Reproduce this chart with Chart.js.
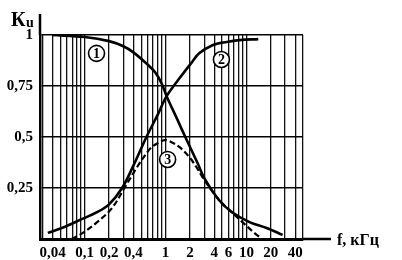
<!DOCTYPE html>
<html>
<head>
<meta charset="utf-8">
<script src="https://cdn.jsdelivr.net/npm/chart.js@4.4.1/dist/chart.umd.min.js"></script>
<style>
  body { margin: 0; background: #fff; }
  #wrap { width: 402px; height: 260px; }
</style>
</head>
<body>
<div id="wrap"><canvas id="chart" width="402" height="260"></canvas></div>
<script>
// Curve 1 - low-pass branch
const freq1 = [0.04, 0.1, 0.2, 0.3, 0.4, 0.6, 0.75, 0.9, 1.03, 1.4, 1.8, 2.5, 3.0, 4.6, 6.7, 10.9, 17.7, 28];
const gain1 = [1.0, 0.99, 0.97, 0.945, 0.915, 0.855, 0.815, 0.76, 0.70, 0.585, 0.49, 0.37, 0.30, 0.19, 0.13, 0.083, 0.054, 0.02];

// Curve 2 - high-pass branch
const freq2 = [0.035, 0.053, 0.095, 0.14, 0.2, 0.29, 0.4, 0.58, 0.8, 1.03, 1.5, 2.15, 2.6, 3.8, 5.7, 8.2, 14];
const gain2 = [0.03, 0.055, 0.10, 0.13, 0.17, 0.25, 0.36, 0.50, 0.61, 0.70, 0.79, 0.87, 0.91, 0.95, 0.966, 0.975, 0.98];

// Curve 3 - band-pass (dashed)
const freq3 = [0.069, 0.095, 0.14, 0.216, 0.31, 0.44, 0.58, 0.67, 0.84, 0.97, 1.12, 1.49, 1.98, 2.4, 3.0, 4.6, 6.2, 8.9, 12.5, 14.5];
const gain3 = [0.0, 0.03, 0.08, 0.15, 0.25, 0.35, 0.42, 0.45, 0.475, 0.485, 0.48, 0.45, 0.40, 0.353, 0.29, 0.19, 0.14, 0.083, 0.03, 0.01];

// Log grid lines and the labelled subset
const gridFreqs = [0.03, 0.04, 0.05, 0.06, 0.07, 0.08, 0.09,
                   0.1, 0.2, 0.3, 0.4, 0.5, 0.6, 0.7, 0.8, 0.9,
                   1, 2, 3, 4, 5, 6, 7, 8, 9,
                   10, 20, 30, 40, 50];
const labelFreqs = [0.04, 0.1, 0.2, 0.4, 1, 2, 4, 6, 10, 20, 40];
const labelTexts = ['0,04', '0,1', '0,2', '0,4', '1', '2', '4', '6', '10', '20', '40'];

const yTicks = [0, 0.25, 0.5, 0.75, 1];
const yTickTexts = ['', '0,25', '0,5', '0,75', '1'];

// Circled curve numbers
const markNames = ['1', '2', '3'];
const markFreqs = [0.14, 4.9, 1.06];
const markGains = [0.91, 0.88, 0.39];

function toPoints(xs, ys) {
    return xs.map((x, i) => ({ x: x, y: ys[i] }));
}

const serif = '"Liberation Serif", "Times New Roman", serif';

// Extra drawing: axis extensions, axis titles, circled numbers
const extras = {
    id: 'extras',
    afterDraw(chart) {
        const ctx = chart.ctx;
        const a = chart.chartArea;
        const xs = chart.scales.x;
        const ys = chart.scales.y;
        ctx.save();
        ctx.strokeStyle = '#000';
        ctx.lineWidth = 2.5;
        ctx.beginPath();
        ctx.moveTo(a.left, a.top);
        ctx.lineTo(a.left, 14);
        ctx.moveTo(a.right, a.bottom);
        ctx.lineTo(331, a.bottom);
        ctx.stroke();

        ctx.fillStyle = '#000';
        ctx.textAlign = 'left';
        ctx.textBaseline = 'alphabetic';
        ctx.font = 'bold 20px ' + serif;
        ctx.fillText('К', 11, 26);
        ctx.font = 'bold 14px ' + serif;
        ctx.fillText('u', 26, 27);
        ctx.font = 'bold 16px ' + serif;
        ctx.fillText('f, кГц', 337, 245);

        ctx.textAlign = 'center';
        ctx.textBaseline = 'middle';
        ctx.lineWidth = 1.6;
        markNames.forEach((name, i) => {
            const px = xs.getPixelForValue(markFreqs[i]);
            const py = ys.getPixelForValue(markGains[i]);
            ctx.fillStyle = '#fff';
            ctx.beginPath();
            ctx.arc(px, py, 8, 0, Math.PI * 2);
            ctx.fill();
            ctx.stroke();
            ctx.fillStyle = '#000';
            ctx.font = 'bold 14px ' + serif;
            ctx.fillText(name, px, py + 1);
        });
        ctx.restore();
    }
};

const lineStyle = {
    borderColor: '#000',
    pointRadius: 0,
    fill: false,
    tension: 0.35
};

new Chart(document.getElementById('chart').getContext('2d'), {
    type: 'line',
    data: {
        datasets: [
            Object.assign({ data: toPoints(freq1, gain1), borderWidth: 2.6 }, lineStyle),
            Object.assign({ data: toPoints(freq2, gain2), borderWidth: 2.6 }, lineStyle),
            Object.assign({ data: toPoints(freq3, gain3), borderWidth: 2.2, borderDash: [6, 3] }, lineStyle)
        ]
    },
    options: {
        responsive: false,
        animation: false,
        layout: { padding: { top: 35, right: 99, left: 0, bottom: 0 } },
        plugins: { legend: { display: false }, tooltip: { enabled: false } },
        scales: {
            x: {
                type: 'logarithmic',
                min: 0.028,
                max: 50,
                afterBuildTicks: s => { s.ticks = gridFreqs.map(v => ({ value: v })); },
                afterFit: s => { s.height = 21; },
                grid: { color: '#111', lineWidth: 1.3, drawTicks: false },
                border: { color: '#000', width: 3 },
                ticks: {
                    autoSkip: false,
                    maxRotation: 0,
                    padding: 5,
                    color: '#000',
                    font: { family: serif, size: 15, weight: 'bold' },
                    callback: v => {
                        const i = labelFreqs.indexOf(v);
                        return i >= 0 ? labelTexts[i] : '';
                    }
                }
            },
            y: {
                min: 0,
                max: 1,
                afterBuildTicks: s => { s.ticks = yTicks.map(v => ({ value: v })); },
                afterFit: s => { s.width = 40; },
                grid: { color: '#000', lineWidth: 1.6, drawTicks: false },
                border: { color: '#000', width: 2.5 },
                ticks: {
                    padding: 7,
                    color: '#000',
                    font: { family: serif, size: 15, weight: 'bold' },
                    callback: v => yTickTexts[yTicks.indexOf(v)]
                }
            }
        }
    },
    plugins: [extras]
});
</script>
</body>
</html>
